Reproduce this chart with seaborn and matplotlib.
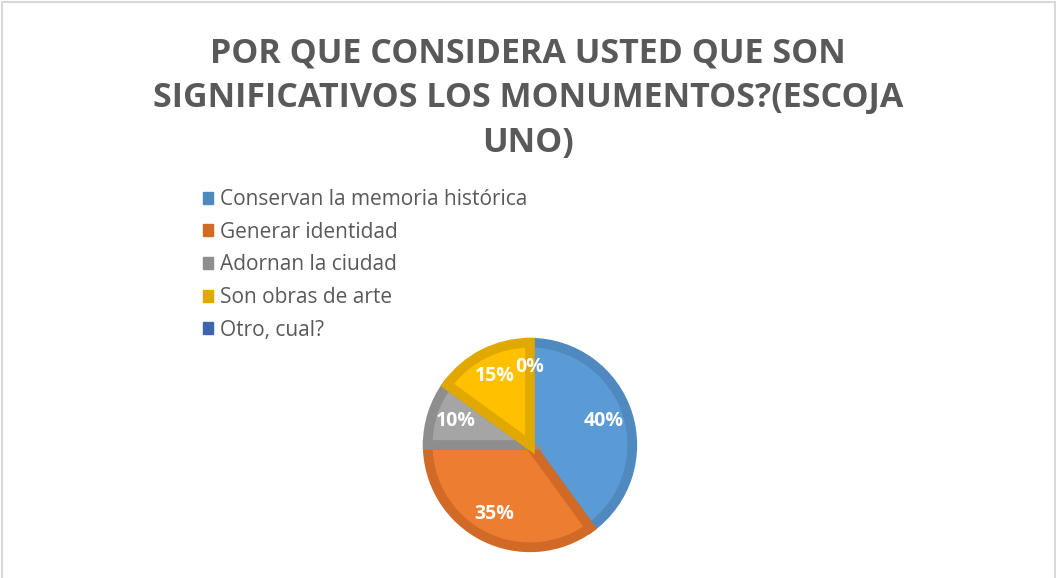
import matplotlib
matplotlib.use("Agg")
import matplotlib.pyplot as plt
import seaborn as sns
from matplotlib.patches import Patch
from matplotlib.lines import Line2D

categories = ["Conservan la memoria histórica", "Generar identidad",
              "Adornan la ciudad", "Son obras de arte", "Otro, cual?"]
values = [40, 35, 10, 15, 0]
labels_pct = ["40%", "35%", "10%", "15%", "0%"]
title = "POR QUE CONSIDERA USTED QUE SON\nSIGNIFICATIVOS LOS MONUMENTOS?(ESCOJA\nUNO)"

fill_colors = ["#5B9BD5", "#ED7D31", "#A5A5A5", "#FFC000", "#4472C4"]
edge_colors = ["#4F89C0", "#D26A27", "#8E8E8E", "#E1A800", "#3D65AE"]

sns.set_theme(style="white")
plt.rcParams['font.family'] = ['Open Sans', 'DejaVu Sans']

W, H = 1056, 578
fig = plt.figure(figsize=(W / 100, H / 100), dpi=100)
fig.patch.set_facecolor("white")

# frame (left, top, right)
fig.add_artist(Line2D([1.5 / W, 1.5 / W], [0, 1 - 1.5 / H], transform=fig.transFigure, color="#D9D9D9", lw=1.5))
fig.add_artist(Line2D([1.5 / W, 1 - 1.5 / W], [1 - 1.5 / H, 1 - 1.5 / H], transform=fig.transFigure, color="#D9D9D9", lw=1.5))
fig.add_artist(Line2D([1 - 1.5 / W, 1 - 1.5 / W], [0, 1 - 1.5 / H], transform=fig.transFigure, color="#D9D9D9", lw=1.5))

fig.text(0.5, 1 - 36 / H, title, ha="center", va="top", fontsize=24.5, fontweight="bold",
         color="#595959", linespacing=1.42)

cx, cy, r = 530, 445, 106
ax = fig.add_axes([(cx - r) / W, (H - cy - r) / H, 2 * r / W, 2 * r / H])
wedges, texts, autotexts = ax.pie(values, colors=fill_colors, startangle=90, counterclock=False,
                                  radius=0.965, autopct="%1.0f%%", pctdistance=0.76,
                                  wedgeprops=dict(linewidth=7, joinstyle="miter"),
                                  textprops=dict(color="white", fontsize=14, fontweight="bold"))
for w, ec, v in zip(wedges, edge_colors, values):
    w.set_edgecolor(ec)
    if v == 0:
        w.set_linewidth(0)
for t, s in zip(autotexts, labels_pct):
    t.set_text(s)
ax.set_xlim(-1, 1)
ax.set_ylim(-1, 1)
ax.set_aspect("equal")
ax.axis("off")

handles = [Patch(facecolor=c, edgecolor=c) for c in edge_colors]
fig.legend(handles, categories, loc="upper left", bbox_to_anchor=(203 / W, 1 - 189 / H),
           frameon=False, fontsize=15, labelcolor="#595959", handlelength=0.5, handleheight=0.5,
           handletextpad=0.33, labelspacing=0.56, borderaxespad=0, borderpad=0)

fig.savefig("out.png", dpi=100, facecolor="white")
